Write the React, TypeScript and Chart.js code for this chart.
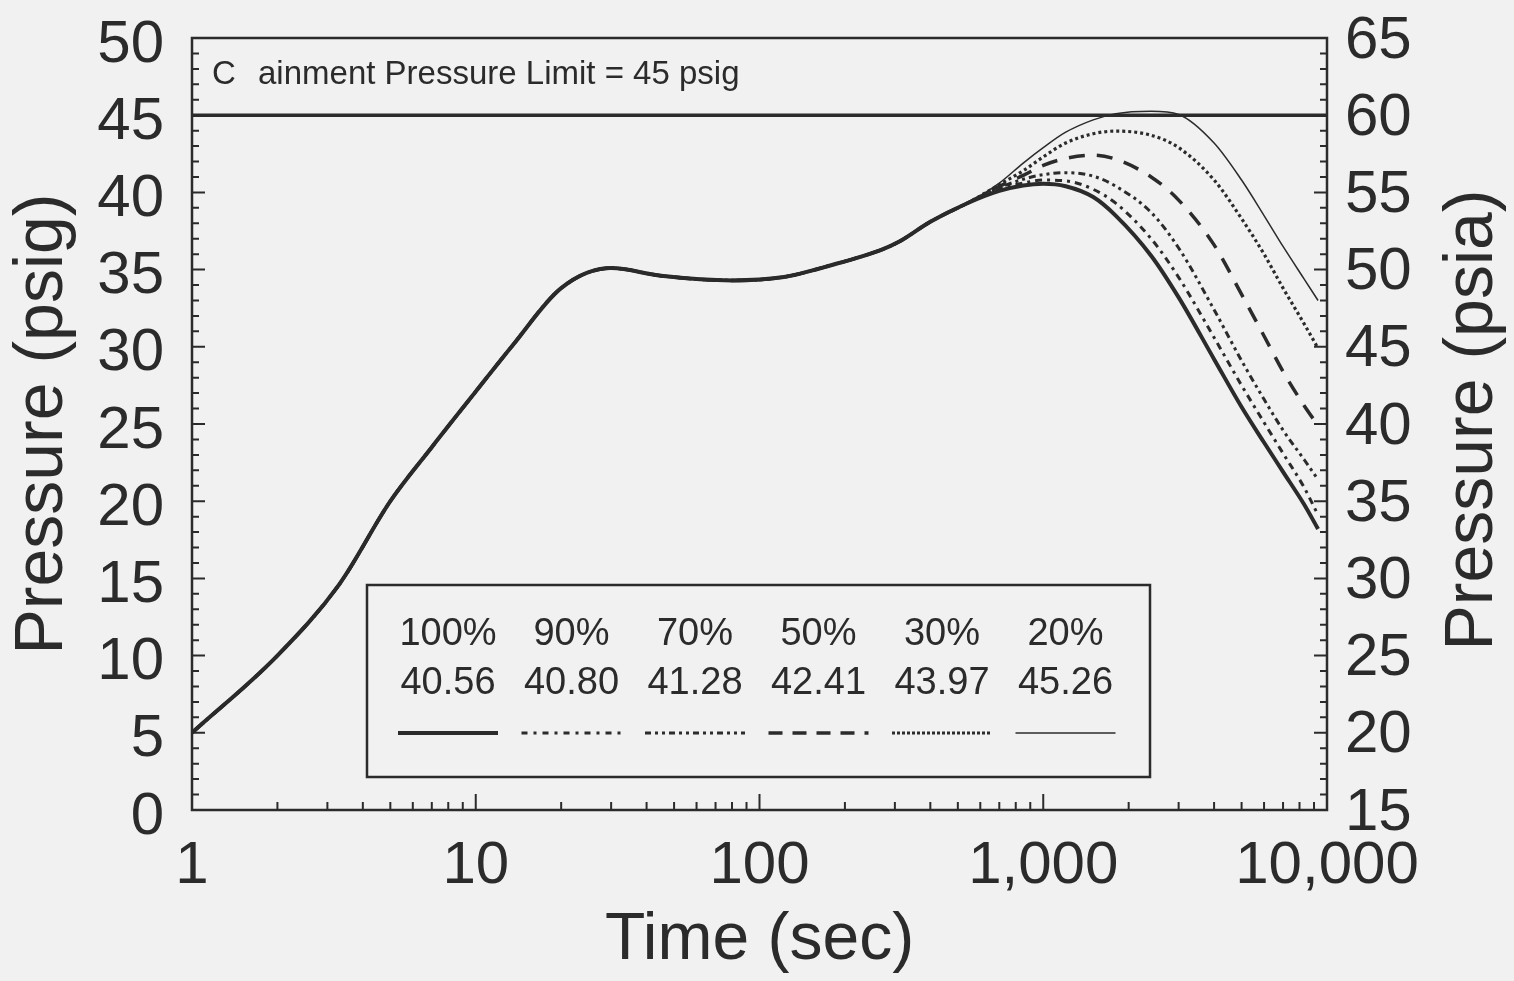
import React, { useEffect, useRef } from "react";
import { Chart, registerables } from "chart.js";

Chart.register(...registerables);

// ---- data ----
const sharedTimes = [1, 2, 3.3, 5, 7, 10, 13.5, 20, 30, 45, 80, 120, 180, 270, 310, 400, 540];
const sharedPressure = [5.0, 10.0, 14.6, 20.0, 23.5, 27.1, 30.1, 33.8, 35.1, 34.6, 34.3, 34.5, 35.3, 36.3, 36.8, 38.1, 39.3];

const lateTimes = [700, 850, 1000, 1200, 1500, 1800, 2400, 3000, 4000, 5000, 6000, 7000, 8300, 9300];
const late100 = [40.1, 40.45, 40.56, 40.4, 39.7, 38.5, 35.9, 33.2, 29.2, 26.1, 23.8, 21.9, 19.8, 18.2];
const late90 = [40.2, 40.6, 40.8, 40.75, 40.2, 39.3, 37.0, 34.5, 30.6, 27.5, 25.1, 23.1, 20.9, 19.1];
const late70 = [40.3, 40.85, 41.15, 41.28, 41.05, 40.4, 38.7, 36.4, 32.4, 29.1, 26.6, 24.6, 22.7, 21.4];
const late50 = [40.4, 41.1, 41.75, 42.2, 42.41, 42.15, 41.0, 39.5, 36.6, 33.4, 30.7, 28.4, 26.2, 24.9];
const late30 = [40.5, 41.4, 42.3, 43.2, 43.8, 43.97, 43.7, 42.9, 40.8, 38.3, 36.0, 33.8, 31.5, 29.9];
const late20 = [40.6, 41.9, 42.9, 43.9, 44.7, 45.1, 45.26, 45.05, 43.2, 40.8, 38.5, 36.5, 34.4, 33.0];

const seriesLabels = ["100%", "90%", "70%", "50%", "30%", "20%"];
const peakLabels = ["40.56", "40.80", "41.28", "42.41", "43.97", "45.26"];
const seriesLate = [late100, late90, late70, late50, late30, late20];

const limitTimes = [1, 10000];
const limitValue = 45;
const limitTextStart = "C";
const limitTextRest = "ainment Pressure Limit = 45 psig";

const xDecades = [1, 10, 100, 1000, 10000];
const xTickLabels = ["1", "10", "100", "1,000", "10,000"];

const leftTitle = "Pressure (psig)";
const rightTitle = "Pressure (psia)";
const bottomTitle = "Time (sec)";

// ---- styles ----
const INK = "#2b2b2b";
const BG = "#f1f1f1";
const FONT = "'Liberation Sans', Arial, Helvetica, sans-serif";
const seriesDash: number[][] = [[], [7, 5, 3, 5], [7, 4, 3, 4, 3, 4], [16, 12], [3, 3], []];
const seriesWidth = [4, 3, 3, 3.5, 3.2, 1.5];
const legendDash: number[][] = [[], [6, 6, 3, 6], [6, 4, 3, 4, 3, 4], [14, 10], [3, 2], []];

function buildSeries(late: number[]) {
  const pts = sharedTimes.map((t, i) => ({ x: t, y: sharedPressure[i] }));
  return pts.concat(lateTimes.map((t, i) => ({ x: t, y: late[i] })));
}

const decorPlugin = {
  id: "decor",
  afterDraw(chart: any) {
    const { ctx, chartArea: a } = chart;
    const xs = chart.scales.x;
    const ys = chart.scales.y;
    const y2 = chart.scales.y2;
    ctx.save();
    ctx.strokeStyle = INK;
    ctx.fillStyle = INK;

    // frame
    ctx.lineWidth = 2.5;
    ctx.strokeRect(a.left, a.top, a.right - a.left, a.bottom - a.top);

    // inward ticks
    ctx.lineWidth = 2;
    ctx.beginPath();
    for (let v = 0; v <= 50; v++) {
      const py = ys.getPixelForValue(v);
      const len = v % 5 === 0 ? 13 : 7;
      ctx.moveTo(a.left, py);
      ctx.lineTo(a.left + len, py);
    }
    for (let v = 15; v <= 65; v++) {
      const py = y2.getPixelForValue(v);
      const len = v % 5 === 0 ? 13 : 7;
      ctx.moveTo(a.right, py);
      ctx.lineTo(a.right - len, py);
    }
    for (let k = 0; k < 4; k++) {
      for (let m = 1; m <= 9; m++) {
        const t = m * Math.pow(10, k);
        const px = xs.getPixelForValue(t);
        const len = m === 1 ? 16 : 8;
        ctx.moveTo(px, a.bottom);
        ctx.lineTo(px, a.bottom - len);
      }
    }
    ctx.stroke();

    // limit annotation
    ctx.font = `33px ${FONT}`;
    ctx.textBaseline = "middle";
    ctx.textAlign = "left";
    ctx.fillText(limitTextStart, a.left + 20, a.top + 37);
    ctx.fillText(limitTextRest, a.left + 66, a.top + 37);

    // legend box
    const bx = a.left + 175;
    const by = a.top + 547;
    const bw = 783;
    const bh = 192;
    ctx.fillStyle = BG;
    ctx.fillRect(bx, by, bw, bh);
    ctx.lineWidth = 2.5;
    ctx.strokeRect(bx, by, bw, bh);
    ctx.fillStyle = INK;
    ctx.font = `38px ${FONT}`;
    ctx.textAlign = "center";
    for (let i = 0; i < seriesLabels.length; i++) {
      const cx = bx + 81 + i * 123.5;
      ctx.fillText(seriesLabels[i], cx, by + 50);
      ctx.fillText(peakLabels[i], cx, by + 99);
      ctx.beginPath();
      ctx.setLineDash(legendDash[i]);
      ctx.lineWidth = seriesWidth[i];
      ctx.moveTo(cx - 50, by + 148);
      ctx.lineTo(cx + 50, by + 148);
      ctx.stroke();
    }
    ctx.setLineDash([]);

    // right axis title (reads bottom to top)
    ctx.font = `68px ${FONT}`;
    ctx.translate(1473, (a.top + a.bottom) / 2 - 4);
    ctx.rotate(-Math.PI / 2);
    ctx.textAlign = "center";
    ctx.textBaseline = "middle";
    ctx.fillText(rightTitle, 0, 0);
    ctx.restore();
  },
};

function fixVertical(width: number) {
  return (s: any) => {
    s.width = width;
    s.paddingTop = 0;
    s.paddingBottom = 0;
  };
}

export default function App() {
  const ref = useRef<HTMLCanvasElement | null>(null);

  useEffect(() => {
    document.body.style.margin = "0";
    document.body.style.background = BG;
    const canvas = ref.current;
    if (!canvas) return;

    const datasets: any[] = seriesLate.map((late, i) => ({
      label: seriesLabels[i],
      data: buildSeries(late),
      borderColor: INK,
      borderWidth: seriesWidth[i],
      borderDash: seriesDash[i],
      pointRadius: 0,
      fill: false,
      cubicInterpolationMode: "monotone",
      order: 6 - i,
    }));
    datasets.push({
      label: "Containment Pressure Limit",
      data: limitTimes.map((t) => ({ x: t, y: limitValue })),
      borderColor: INK,
      borderWidth: 3.5,
      pointRadius: 0,
      fill: false,
    });

    const chart = new Chart(canvas, {
      type: "line",
      data: { datasets },
      options: {
        animation: false,
        responsive: true,
        maintainAspectRatio: false,
        layout: { padding: { top: 38, left: 0, right: 0, bottom: 0 } },
        plugins: { legend: { display: false }, tooltip: { enabled: false } },
        scales: {
          x: {
            type: "logarithmic",
            position: "bottom",
            min: 1,
            max: 10000,
            grid: { display: false, drawTicks: false },
            border: { display: false },
            afterFit: (s: any) => {
              s.height = 171;
              s.paddingLeft = 0;
              s.paddingRight = 0;
            },
            ticks: {
              autoSkip: false,
              maxRotation: 0,
              padding: 20,
              color: INK,
              font: { family: FONT, size: 60 },
              callback: (value: any) => {
                const v = Number(value);
                const i = xDecades.findIndex((d) => Math.abs(v - d) / d < 1e-6);
                return i >= 0 ? xTickLabels[i] : "";
              },
            },
            title: {
              display: true,
              text: bottomTitle,
              color: INK,
              font: { family: FONT, size: 66 },
              padding: { top: 0, bottom: 1 },
            },
          },
          y: {
            type: "linear",
            position: "left",
            min: 0,
            max: 50,
            grid: { display: false, drawTicks: false },
            border: { display: false },
            afterFit: fixVertical(192),
            ticks: {
              stepSize: 5,
              autoSkip: false,
              padding: 28,
              labelOffset: 7,
              color: INK,
              font: { family: FONT, size: 60 },
            },
            title: {
              display: true,
              text: leftTitle,
              color: INK,
              font: { family: FONT, size: 68 },
              padding: { top: 2, bottom: 0 },
            },
          },
          y2: {
            type: "linear",
            position: "right",
            min: 15,
            max: 65,
            grid: { display: false, drawTicks: false },
            border: { display: false },
            afterFit: fixVertical(187),
            ticks: {
              stepSize: 5,
              autoSkip: false,
              padding: 18,
              labelOffset: 3,
              color: INK,
              font: { family: FONT, size: 60 },
            },
          },
        },
      },
      plugins: [decorPlugin],
    });

    return () => chart.destroy();
  }, []);

  return (
    <div style={{ position: "relative", width: 1514, height: 981, background: BG }}>
      <canvas ref={ref} />
    </div>
  );
}
